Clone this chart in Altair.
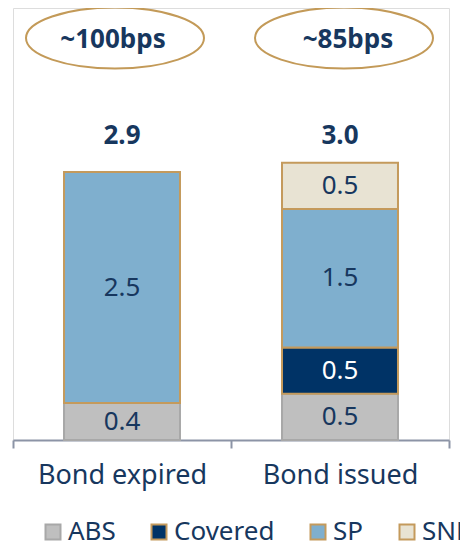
import altair as alt
import pandas as pd

categories = ["Bond expired", "Bond issued"]
series = ["ABS", "Covered", "SP", "SNP"]
abs_vals = [0.4, 0.5]
covered_vals = [0.0, 0.5]
sp_vals = [2.5, 1.5]
snp_vals = [0.0, 0.5]
totals = [2.9, 3.0]
annotations = ["~100bps", "~85bps"]

fill_colors = ["#BFBFBF", "#003366", "#7FAFCE", "#E8E3D3"]
stroke_colors = ["#A8A8A8", "#C49A5C", "#C49A5C", "#C49A5C"]
NAVY = "#17375E"
GOLD = "#C39A58"
AXIS = "#8C94A6"
FONT = "Noto Sans"

rows = []
for i, c in enumerate(categories):
    for k, (s, vals) in enumerate(zip(series, [abs_vals, covered_vals, sp_vals, snp_vals])):
        if vals[i] > 0:
            rows.append({"cat": c, "series": s, "value": vals[i], "order": k})
df = pd.DataFrame(rows)
tot_df = pd.DataFrame({"cat": categories, "total": totals, "label": [f"{t:.1f}" for t in totals]})
ann_df = pd.DataFrame({"cat": categories, "ann": annotations})

x_enc = alt.X(
    "cat:N",
    sort=categories,
    title=None,
    scale=alt.Scale(paddingInner=0, paddingOuter=0),
    axis=alt.Axis(
        labelAngle=0,
        labelFontSize=27,
        labelFont=FONT,
        labelColor=NAVY,
        labelPadding=14,
        domainColor=AXIS,
        domainWidth=2,
        ticks=True,
        tickColor=AXIS,
        tickOpacity=1,
        tickWidth=2,
        tickSize=8,
        tickBand="extent",
    ),
)
y_scale = alt.Scale(domain=[0, 4.675], nice=False, zero=True)

bars = alt.Chart(df).mark_bar(strokeWidth=2, width=alt.RelativeBandSize(0.532)).encode(
    x=x_enc,
    y=alt.Y("value:Q", stack="zero", scale=y_scale, axis=None),
    fill=alt.Fill(
        "series:N",
        scale=alt.Scale(domain=series, range=fill_colors),
        legend=alt.Legend(
            title=None,
            orient="none",
            legendX=27,
            legendY=511,
            direction="horizontal",
            symbolType="square",
            symbolSize=225,
            symbolStrokeWidth=2,
            labelFontSize=26,
            labelFont=FONT,
            labelColor=NAVY,
            labelOffset=2,
            columnPadding=30,
            padding=0,
        ),
    ),
    stroke=alt.Stroke(
        "series:N",
        scale=alt.Scale(domain=series, range=stroke_colors),
        legend=alt.Legend(title=None),
    ),
    order=alt.Order("order:Q"),
)

seg_text = (
    alt.Chart(df)
    .transform_stack(stack="value", groupby=["cat"], as_=["v0", "v1"], sort=[alt.SortField("order")])
    .transform_calculate(mid="(datum.v0 + datum.v1) / 2", lab="format(datum.value, '.1f')")
    .mark_text(fontSize=26, font=FONT, baseline="middle")
    .encode(
        x=alt.X("cat:N", sort=categories),
        y=alt.Y("mid:Q", scale=y_scale),
        text="lab:N",
        color=alt.condition(alt.datum.series == "Covered", alt.value("#FFFFFF"), alt.value(NAVY)),
    )
)

tot_text = alt.Chart(tot_df).mark_text(
    fontSize=26, font=FONT, fontWeight="bold", baseline="alphabetic", color=NAVY
).encode(
    x=alt.X("cat:N", sort=categories),
    y=alt.datum(3.2, scale=y_scale),
    text="label:N",
)

ellipse_path = "M -1 0 A 1 0.343 0 1 0 1 0 A 1 0.343 0 1 0 -1 0 Z"
ell_offsets = [-7, 4]
txt_offsets = [-9, 8]
ann_layers = []
for i, c in enumerate(categories):
    sub = ann_df[ann_df["cat"] == c]
    ann_layers.append(
        alt.Chart(sub).mark_point(
            shape=ellipse_path, size=178 * 178, filled=False, stroke=GOLD, strokeWidth=2,
            opacity=1, xOffset=ell_offsets[i],
        ).encode(x=alt.X("cat:N", sort=categories), y=alt.datum(4.35, scale=y_scale))
    )
    ann_layers.append(
        alt.Chart(sub).mark_text(
            fontSize=26, font=FONT, fontWeight="bold", color=NAVY, baseline="middle",
            xOffset=txt_offsets[i],
        ).encode(x=alt.X("cat:N", sort=categories), y=alt.datum(4.33, scale=y_scale), text="ann:N")
    )

chart = alt.layer(bars, seg_text, tot_text, *ann_layers).properties(
    width=436,
    height=432,
    autosize=alt.AutoSizeParams(type="none"),
    padding={"left": 5, "top": 0, "right": 11, "bottom": 103},
).configure_view(stroke=None).configure(background="#FFFFFF")

chart.save("out.html", embed_options={"renderer": "svg", "actions": False})
